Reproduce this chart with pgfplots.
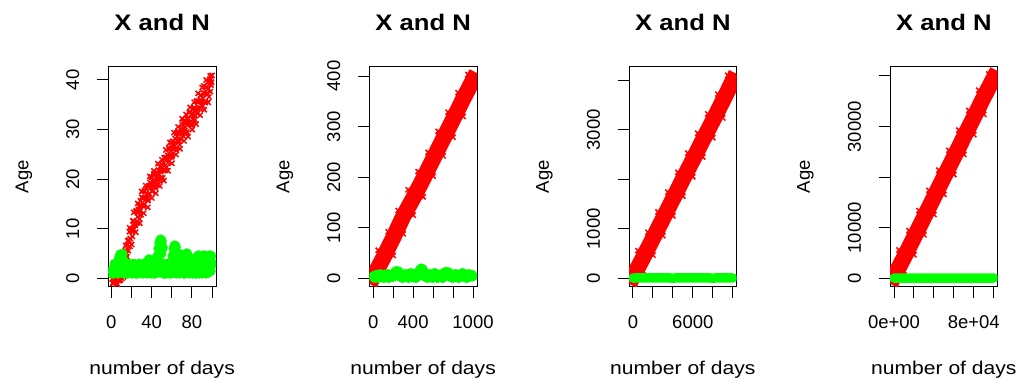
\documentclass[border=0pt]{standalone}
\usepackage{fontspec}
\setmainfont{Liberation Sans}
\newfontfamily\stretchfont{Liberation Sans}[FakeStretch=1.14]
\usepackage{pgfplots}
\pgfplotsset{compat=1.18}
\definecolor{rred}{RGB}{255,0,0}
\definecolor{rgreen}{RGB}{0,255,0}
\pgfplotsset{
  rpanel/.style={
    scale only axis, width=107.7pt, height=220pt, anchor=south west,
    axis line style={black, line width=1pt},
    tick align=outside, major tick length=11.5pt,
    every tick/.style={black, line width=1pt},
    xtick pos=bottom, ytick pos=left,
    scaled x ticks=false, scaled y ticks=false,
    tick label style={font=\fontsize{18.5}{20}\selectfont, text=black},
    yticklabel style={xshift=-14pt, rotate=90, anchor=south},
    xticklabel style={yshift=-14pt, anchor=north},
    title style={at={(axis description cs:0.5,1.136)}, anchor=base, font=\stretchfont\bfseries\fontsize{22.5}{24}\selectfont},
    xlabel style={at={(axis description cs:0.5,-0.40)}, anchor=base, font=\stretchfont\fontsize{18.5}{20}\selectfont},
    ylabel style={at={(axis description cs:-0.743,0.5)}, anchor=base, font=\fontsize{18.5}{20}\selectfont},
    title={X and N}, xlabel={number of days}, ylabel={Age},
    clip marker paths=true,
  },
  redpts/.style={only marks, mark=x, mark size=3.6pt, color=rred, mark options={line width=1.5pt}},
  greenpts/.style={only marks, mark=*, mark size=5pt, color=rgreen, mark options={draw=rgreen, fill=rgreen}},
}
\begin{document}
\begin{tikzpicture}
\useasboundingbox (0pt,0pt) rectangle (1027pt,381pt);
% ---------------- panel 1
\begin{axis}[rpanel, at={(108.3pt,94.3pt)},
  xmin=-2.96, xmax=103.96, ymin=-1.69, ymax=42.68,
  xtick={0,20,40,60,80,100}, xticklabels={0,,40,,80,},
  ytick={0,10,20,30,40}, yticklabels={0,10,20,30,40}]
\addplot[redpts] coordinates {
(1,-0.14)(2,-1.06)(3,-0.38)(4,0.14)(5,-0.78)(6,-1.18)(7,-0.06)(8,-0.42)(9,-0.3)(10,2.12)
(11,1.4)(12,3.4)(13,1.9)(14,5.6)(15,5.1)(16,6.8)(17,5.6)(18,9.4)(19,8.0)(20,9.8)
(21,8.45)(22,11.5)(23,11.15)(24,10.7)(25,13.65)(26,12.4)(27,13.85)(28,12.0)(29,15.65)(30,14.7)
(31,16.17)(32,14.54)(33,17.61)(34,15.88)(35,16.95)(36,15.72)(37,18.59)(38,17.06)(39,18.73)(40,20.4)
(41,17.69)(42,19.18)(43,20.87)(44,18.16)(45,20.75)(46,19.94)(47,21.83)(48,19.92)(49,21.51)(50,23.0)
(51,20.25)(52,23.2)(53,22.65)(54,24.3)(55,22.45)(56,24.8)(57,26.35)(58,24.4)(59,25.65)(60,24.5)
(61,27.64)(62,26.08)(63,27.42)(64,26.26)(65,29.3)(66,27.74)(67,29.28)(68,26.92)(69,30.16)(70,29.6)
(71,28.81)(72,31.42)(73,29.83)(74,31.34)(75,29.55)(76,32.26)(77,31.47)(78,33.58)(79,30.99)(80,33.0)
(81,32.05)(82,34.4)(83,31.95)(84,34.2)(85,35.75)(86,34.2)(87,35.75)(88,34.3)(89,36.95)(90,35.4)
(91,36.3)(92,38.8)(93,35.6)(94,38.5)(95,37.3)(96,39.6)(97,36.6)(98,40.2)(99,39.0)(100,40.9)
(1.5,-0.94)(2.5,-0.26)(3.5,0.1)(4.5,-0.62)(5.5,-1.14)(6.5,-0.14)(7.5,-0.42)(8.5,-0.42)(9.5,1.43)(10.5,0.0)
(11.5,2.75)(12.5,4.8)(13.5,3.35)(14.5,4.8)(15.5,4.4)(16.5,7.55)(17.5,7.7)(18.5,6.45)(19.5,9.8)(20.5,9.48)
(21.5,11.63)(22.5,9.88)(23.5,10.93)(24.5,13.48)(25.5,11.13)(26.5,13.28)(27.5,14.53)(28.5,13.58)(29.5,12.83)(30.5,16.29)
(31.5,16.16)(32.5,14.83)(33.5,16.3)(34.5,18.07)(35.5,16.24)(36.5,15.81)(37.5,18.58)(38.5,19.35)(39.5,18.32)(40.5,17.55)
(41.5,19.64)(42.5,21.13)(43.5,18.82)(44.5,19.61)(45.5,21.3)(46.5,18.89)(47.5,20.98)(48.5,22.47)(49.5,20.26)(50.5,22.23)
(51.5,21.78)(52.5,24.33)(53.5,21.78)(54.5,24.33)(55.5,23.98)(56.5,23.43)(57.5,26.08)(58.5,24.73)(59.5,27.38)(60.5,24.77)
(61.5,26.81)(62.5,26.65)(63.5,28.19)(64.5,25.83)(65.5,28.57)(66.5,29.61)(67.5,27.65)(68.5,29.29)(69.5,28.03)(70.5,31.06)
(71.5,29.37)(72.5,30.28)(73.5,31.79)(74.5,29.3)(75.5,32.0)(76.5,31.12)(77.5,33.43)(78.5,31.04)(79.5,32.95)(80.5,30.88)
(81.5,34.13)(82.5,32.98)(83.5,33.93)(84.5,35.68)(85.5,33.23)(86.5,35.58)(87.5,34.43)(88.5,36.88)(89.5,35.73)(90.5,34.85)
(91.5,37.45)(92.5,37.25)(93.5,35.45)(94.5,38.55)(95.5,37.15)(96.5,38.25)(97.5,39.75)(98.5,37.65)(99.5,39.55)
(10.25,3.6)(12.25,0.3)(14.25,6.6)(16.25,3.2)(18.25,10.2)(20.25,6.8)(22.25,13.3)(24.25,9.3)(26.25,15.1)(28.25,11.1)
(30.25,17.5)(32.25,13.14)(34.25,18.68)(36.25,14.32)(38.25,20.56)(40.25,16.2)(42.25,21.68)(44.25,17.16)(46.25,23.14)(48.25,18.62)
(50.25,23.9)(52.25,19.7)(54.25,25.9)(56.25,21.7)(58.25,27.4)(60.25,23.2)(62.25,29.38)(64.25,24.96)(66.25,30.54)(68.25,26.12)
(70.25,32.2)(72.25,27.72)(74.25,33.04)(76.25,28.56)(78.25,34.48)(80.25,30.0)(82.25,35.5)(84.25,31.1)(86.25,37.3)(88.25,32.9)
(90.25,38.5)(92.25,34.0)(94.25,40.0)(96.25,35.5)(98.25,40.8)
};
\addplot[greenpts] coordinates {
(1,1.0)(2,1.3)(3,2.0)(4,2.6)(5,1.2)(6,2.8)(7,3.5)(8,4.2)(9,4.8)(10,4.5)
(11,4.9)(12,3.5)(13,1.5)(14,2.2)(15,1.0)(16,2.5)(17,1.8)(18,2.6)(19,1.2)(20,2.4)
(21,2.0)(22,1.5)(23,2.6)(24,2.2)(25,1.0)(26,2.5)(27,1.6)(28,2.7)(29,2.3)(30,1.2)
(31,2.6)(32,2.0)(33,2.8)(34,1.5)(35,2.4)(36,3.4)(37,2.0)(38,1.2)(39,3.0)(40,3.6)
(41,2.2)(42,1.0)(43,2.0)(44,1.5)(45,2.8)(46,4.5)(47,6.0)(48,7.2)(49,7.8)(50,7.5)
(51,6.2)(52,2.0)(53,1.0)(54,2.5)(55,1.5)(56,2.8)(57,2.2)(58,1.0)(59,2.5)(60,3.0)
(61,4.5)(62,6.0)(63,6.6)(64,6.3)(65,5.0)(66,1.5)(67,3.0)(68,4.5)(69,4.8)(70,4.2)
(71,2.0)(72,1.0)(73,3.5)(74,4.8)(75,5.0)(76,4.6)(77,2.5)(78,1.2)(79,2.0)(80,3.2)
(81,3.8)(82,2.5)(83,1.0)(84,2.2)(85,3.5)(86,4.5)(87,4.6)(88,3.0)(89,1.5)(90,2.8)
(91,4.0)(92,4.6)(93,4.5)(94,3.2)(95,1.2)(96,2.6)(97,4.0)(98,4.6)(99,4.5)(100,3.0)
(1.5,1.8)(2.5,1.0)(3.5,2.9)(4.5,1.5)(5.5,2.2)(6.5,1.0)(7.5,2.4)(8.5,1.3)(9.5,3.0)(10.5,1.5)
(11.5,2.0)(12.5,1.0)(13.5,2.8)(14.5,1.4)(15.5,2.9)(16.5,1.0)(17.5,2.9)(18.5,1.6)(19.5,2.8)(20.5,1.0)
(21.5,2.8)(22.5,2.9)(23.5,1.0)(24.5,2.7)(25.5,1.8)(26.5,1.0)(27.5,2.9)(28.5,1.2)(29.5,2.8)(30.5,2.0)
(31.5,1.0)(32.5,2.7)(33.5,1.2)(34.5,3.0)(35.5,1.0)(36.5,2.6)(37.5,3.8)(38.5,2.5)(39.5,1.0)(40.5,2.6)
(41.5,3.0)(42.5,2.4)(43.5,1.0)(44.5,2.5)(45.5,3.6)(46.5,1.2)(47.5,3.0)(48.5,1.5)(49.5,5.0)(50.5,3.0)
(51.5,1.0)(52.5,2.8)(53.5,2.2)(54.5,1.0)(55.5,2.9)(56.5,1.2)(57.5,2.8)(58.5,2.4)(59.5,1.0)(60.5,2.0)
(61.5,1.2)(62.5,3.5)(63.5,2.0)(64.5,1.0)(65.5,3.2)(66.5,2.2)(67.5,1.0)(68.5,2.8)(69.5,1.5)(70.5,3.0)
(71.5,2.6)(72.5,2.0)(73.5,1.0)(74.5,3.0)(75.5,1.5)(76.5,3.5)(77.5,1.0)(78.5,2.8)(79.5,1.5)(80.5,1.0)
(81.5,2.2)(82.5,1.5)(83.5,3.0)(84.5,1.0)(85.5,2.0)(86.5,3.0)(87.5,1.0)(88.5,2.2)(89.5,3.5)(90.5,1.0)
(91.5,2.2)(92.5,3.2)(93.5,1.5)(94.5,1.0)(95.5,3.0)(96.5,1.2)(97.5,2.5)(98.5,1.5)(99.5,2.8)
};
\end{axis}
% ---------------- panel 2
\begin{axis}[rpanel, at={(369.3pt,94.3pt)},
  xmin=-38.96, xmax=1039.96, ymin=-16.6, ymax=418.4,
  xtick={0,200,400,600,800,1000}, xticklabels={0,,400,,,1000},
  ytick={0,100,200,300,400}, yticklabels={0,100,200,300,400}]
\addplot[rred, line width=16pt, line cap=rect] coordinates {
(1,3)(100,40)(200,80)(300,122)(400,158)(500,196)(600,236)(700,275)(800,314)(900,354)(1000,392)};
\addplot[redpts] coordinates {
(50,55.5)(100,6)(150,92)(200,45)(250,134)(300,88)(350,175)(400,125)(450,211)(500,161)
(550,249)(600,202)(650,290.5)(700,242)(750,328.5)(800,279)(850,367)(900,320)(950,403)};
\addplot[greenpts] coordinates {
(5,4)(15,1)(25,6)(35,3)(45,7)(55,1)(65,4)(75,8)(85,3)(95,6)
(105,1)(115,7)(125,4)(135,3)(145,8)(155,1)(165,6)(175,4)(185,7)(195,3)
(205,6)(215,10)(225,13)(235,14)(245,11)(255,13)(265,7)(275,3)(285,6)(295,1)
(305,7)(315,4)(325,8)(335,3)(345,6)(355,1)(365,7)(375,10)(385,4)(395,3)
(405,8)(415,6)(425,1)(435,7)(445,4)(455,11)(465,15)(475,18)(485,19)(495,17)
(505,13)(515,6)(525,3)(535,7)(545,1)(555,4)(565,8)(575,3)(585,6)(595,1)
(605,7)(615,10)(625,9)(635,4)(645,1)(655,6)(665,3)(675,7)(685,4)(695,1)
(705,8)(715,11)(725,12)(735,10)(745,12)(755,11)(765,7)(775,3)(785,6)(795,1)
(805,7)(815,4)(825,8)(835,3)(845,6)(855,1)(865,7)(875,4)(885,8)(895,10)
(905,6)(915,3)(925,7)(935,1)(945,4)(955,8)(965,3)(975,6)(985,7)(995,4)};
\end{axis}
% ---------------- panel 3
\begin{axis}[rpanel, at={(629pt,94.3pt)},
  xmin=-398.96, xmax=10399.96, ymin=-169.7, ymax=4274.7,
  xtick={0,2000,4000,6000,8000,10000}, xticklabels={0,,,6000,,},
  ytick={0,1000,2000,3000,4000}, yticklabels={0,1000,,3000,}]
\addplot[rred, line width=16pt, line cap=rect] coordinates {
(1,30)(1000,410)(2000,805)(3000,1200)(4000,1600)(5000,2000)(6000,2390)(7000,2790)(8000,3180)(9000,3580)(10000,3990)};
\addplot[redpts] coordinates {
(500,560)(1000,70)(1500,930)(2000,470)(2500,1340)(3000,860)(3500,1740)(4000,1260)(4500,2140)(5000,1660)
(5500,2530)(6000,2050)(6500,2930)(7000,2450)(7500,3320)(8000,2840)(8500,3720)(9000,3240)(9500,4100)};
\addplot[rgreen, line width=9.5pt, line cap=round] coordinates {
(1,6)(2000,7)(4000,6)(6000,7)(8000,6)(10000,7)};
\end{axis}
% ---------------- panel 4
\begin{axis}[rpanel, at={(890pt,94.3pt)},
  xmin=-3998.96, xmax=103999.96, ymin=-1661, ymax=41839,
  xtick={0,20000,40000,60000,80000,100000}, xticklabels={0e+00,,,,8e+04,},
  ytick={0,10000,20000,30000,40000}, yticklabels={0,10000,,30000,}]
\addplot[rred, line width=16pt, line cap=rect] coordinates {
(1,300)(10000,4100)(20000,8050)(30000,12000)(40000,16000)(50000,20000)(60000,23900)(70000,27900)(80000,31800)(90000,35800)(100000,39600)};
\addplot[redpts] coordinates {
(5000,5600)(10000,700)(15000,9400)(20000,4650)(25000,13400)(30000,8600)(35000,17400)(40000,12600)(45000,21400)(50000,16600)
(55000,25300)(60000,20500)(65000,29300)(70000,24500)(75000,33200)(80000,28400)(85000,37200)(90000,32400)(95000,40400)};
\addplot[rgreen, line width=9.5pt, line cap=round] coordinates {
(1,40)(20000,60)(40000,40)(60000,60)(80000,40)(100000,60)};
\end{axis}
\end{tikzpicture}
\end{document}
